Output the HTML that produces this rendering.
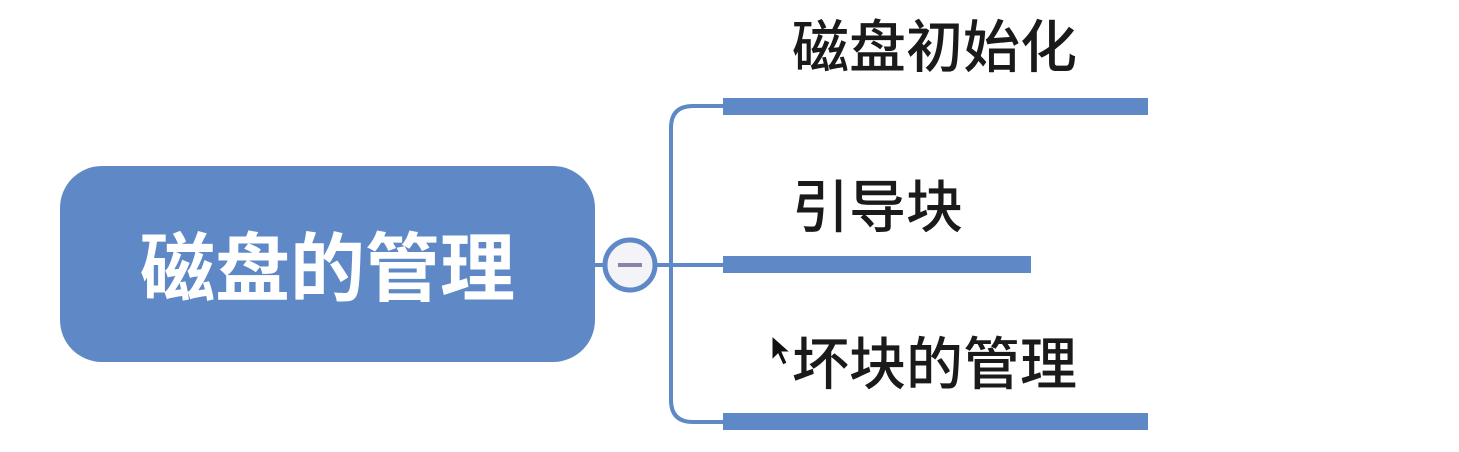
<!DOCTYPE html>
<html><head><meta charset="utf-8"><style>
body{margin:0;width:1459px;height:452px;background:#fff;overflow:hidden;position:relative;font-family:"Liberation Sans","Noto Sans CJK SC",sans-serif}
.t{position:absolute;font-size:57px;line-height:57px;color:#1a1a1a;white-space:nowrap;font-weight:500}
</style></head><body>
<svg width="1459" height="452" style="position:absolute;left:0;top:0">
<rect x="60" y="166" width="535" height="196" rx="42" fill="#5f89c6"/>
<line x1="595" y1="265" x2="730" y2="265" stroke="#5f89c6" stroke-width="4"/>
<path d="M723 106 H693 Q671 106 671 128 V400 Q671 422 693 422 H723" fill="none" stroke="#5f89c6" stroke-width="4"/>
<circle cx="630" cy="265" r="25" fill="#f4f4f8" stroke="#5f89c6" stroke-width="5"/>
<line x1="618" y1="265" x2="642" y2="265" stroke="#8a82a8" stroke-width="4"/>
<rect x="723" y="98" width="425" height="17" fill="#5f89c6"/>
<rect x="723" y="256" width="308" height="17" fill="#5f89c6"/>
<rect x="723" y="413" width="425" height="17" fill="#5f89c6"/>
<path d="M772 336 L772 360 L778 354 L783 365 L787 363 L782 352 L790 352 Z" fill="#111" stroke="#fff" stroke-width="1"/>
</svg>
<div class="t" style="left:140px;top:232px;font-size:75px;line-height:75px;color:#fff;font-weight:bold">磁盘的管理</div>
<div class="t" style="left:792px;top:20px">磁盘初始化</div>
<div class="t" style="left:792px;top:180px">引导块</div>
<div class="t" style="left:792px;top:337px">坏块的管理</div>
</body></html>
